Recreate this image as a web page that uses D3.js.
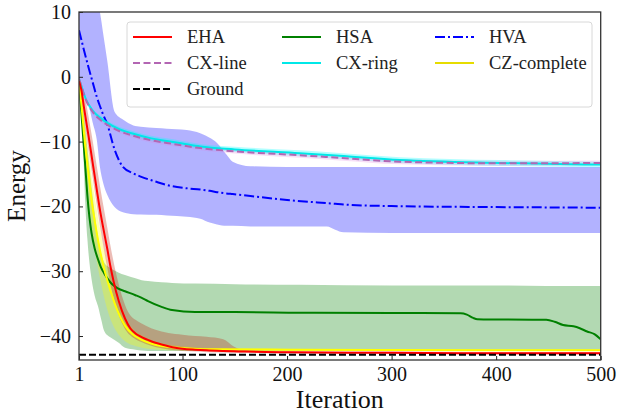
<!DOCTYPE html>
<html><head><meta charset="utf-8">
<script src="https://cdn.jsdelivr.net/npm/d3@7"></script>
<style>
html,body{margin:0;padding:0;background:#fff;}
svg{display:block;}
text{font-family:"Liberation Serif","DejaVu Serif",serif;}
</style></head>
<body>
<svg id="chart" width="618" height="418"></svg>
<script>
// ---------- data ----------
const xTicks = [1, 100, 200, 300, 400, 500];
const yTicks = [10, 0, -10, -20, -30, -40];

// HVA
const hvaIter = [1, 5, 10, 14, 18, 21, 24, 28, 35, 43, 53, 60, 75, 85, 104, 117, 126, 133, 142, 148, 165, 200, 238, 246, 254, 300, 400, 500];
const hvaMean = [7.2, 4.6, 1.5, -0.8, -3.1, -4.5, -5.8, -7.3, -11.2, -13.9, -14.9, -15.4, -16.2, -16.7, -17.2, -17.4, -17.6, -17.8, -18.0, -18.1, -18.4, -19.0, -19.5, -19.6, -19.7, -19.95, -20.1, -20.2];
const hvaHi = [28, 23, 17.5, 14.5, 12, 10, 6.8, 2.5, -5.4, -6.6, -7.5, -7.7, -7.9, -8.0, -8.2, -8.7, -9.4, -10.2, -12.0, -13.1, -13.8, -13.9, -13.9, -13.9, -13.9, -13.9, -13.9, -13.9];
const hvaLo = [-1.0, -2.5, -4.2, -7.0, -9.7, -13.9, -16.3, -18.2, -20.1, -20.9, -21.2, -21.25, -21.3, -21.4, -21.6, -21.9, -22.5, -22.8, -23.0, -23.0, -23.1, -23.1, -23.1, -23.6, -24.0, -24.1, -24.1, -24.1];

// CX-line and CX-ring
const cxIter = [1, 4, 8, 14, 21, 28, 40, 53, 70, 85, 100, 117, 150, 212, 250, 308, 404, 500];
const cxRingMean = [-0.3, -1.8, -3.6, -5.2, -6.3, -7.1, -8.1, -8.8, -9.5, -9.9, -10.3, -10.75, -11.2, -11.8, -12.2, -12.85, -13.3, -13.55];
const cxLineMean = [-0.3, -1.9, -3.7, -5.4, -6.6, -7.4, -8.4, -9.1, -9.8, -10.2, -10.6, -11.0, -11.5, -12.1, -12.5, -13.1, -13.35, -13.3];
const cxRingSpread = [0.1, 0.2, 0.3, 0.3, 0.35, 0.35, 0.35, 0.4, 0.4, 0.4, 0.4, 0.4, 0.4, 0.45, 0.45, 0.45, 0.45, 0.45];
const cxLineSpread = [0.1, 0.2, 0.3, 0.3, 0.3, 0.3, 0.3, 0.35, 0.35, 0.35, 0.35, 0.35, 0.35, 0.4, 0.4, 0.4, 0.4, 0.4];

// EHA
const ehaIter = [1, 3, 6, 10, 14, 18, 21, 25, 28, 31, 34, 39, 45, 50, 55, 60, 70, 80, 93, 100, 112, 123, 139, 149, 160, 200, 300, 400, 500];
const ehaMean = [-0.7, -1.8, -5.0, -9.0, -13.2, -17.4, -20.5, -24.0, -26.5, -29.2, -31.5, -34.6, -37.3, -38.8, -39.6, -40.1, -40.8, -41.3, -41.8, -41.95, -42.1, -42.2, -42.3, -42.35, -42.4, -42.5, -42.6, -42.65, -42.65];
const ehaHi = [-0.3, -0.8, -2.5, -6.0, -9.8, -13.8, -16.8, -20.5, -23.2, -26.0, -28.5, -32.0, -35.2, -36.8, -37.5, -38.0, -38.8, -39.3, -39.7, -39.8, -40.0, -40.1, -40.5, -41.6, -42.2, -42.3, -42.4, -42.45, -42.45];
const ehaLo = [-0.9, -2.8, -6.8, -11.2, -15.5, -19.8, -23.0, -26.8, -29.4, -32.0, -34.0, -36.8, -38.9, -39.9, -40.5, -40.9, -41.5, -41.9, -42.2, -42.3, -42.4, -42.5, -42.55, -42.6, -42.6, -42.7, -42.75, -42.8, -42.8];

// CZ-complete
const czIter = [1, 3, 7, 10, 13, 17, 21, 25, 29, 35, 40, 45, 52, 61, 70, 80, 95, 109, 130, 200, 300, 500];
const czMean = [-0.7, -3.8, -10.7, -14.8, -19.0, -23.2, -26.7, -29.6, -31.9, -34.9, -36.9, -38.4, -39.7, -40.6, -41.15, -41.55, -41.8, -41.95, -42.05, -42.1, -42.15, -42.2];
const czHi = [-0.4, -2.5, -8.0, -11.5, -15.2, -19.5, -23.3, -26.7, -29.5, -33.0, -35.4, -37.2, -38.8, -39.9, -40.6, -41.1, -41.5, -41.7, -41.85, -41.95, -42.0, -42.05];
const czLo = [-1.0, -5.5, -13.5, -18.5, -23.0, -27.5, -31.0, -34.0, -36.4, -38.8, -40.0, -40.8, -41.4, -41.8, -42.0, -42.15, -42.2, -42.25, -42.3, -42.3, -42.3, -42.3];

// HSA
const hsaIter = [1, 3, 5, 7, 9, 11, 13, 16, 19.5, 22, 25, 29, 32, 35, 38.6, 45, 55, 61, 67, 80, 90, 112, 150, 212, 300, 366, 372, 378, 382, 400, 448, 456, 464, 474, 480, 487, 494, 500];
const hsaMean = [-0.7, -5.0, -9.4, -13.8, -18.3, -21.7, -24.1, -26.5, -28.3, -29.4, -30.3, -31.3, -31.9, -32.3, -32.7, -33.1, -33.7, -34.1, -34.6, -35.5, -36.0, -36.3, -36.3, -36.4, -36.45, -36.5, -36.7, -37.2, -37.4, -37.45, -37.5, -37.8, -38.3, -38.5, -38.8, -39.3, -39.7, -40.5];
const hsaHi = [-0.4, -2.5, -5.0, -8.0, -11.0, -14.0, -17.0, -21.0, -25.0, -27.2, -28.6, -29.3, -29.6, -29.9, -30.2, -30.6, -31.1, -31.4, -31.5, -31.7, -31.8, -31.9, -32.0, -32.1, -32.2, -32.2, -32.2, -32.2, -32.2, -32.2, -32.3, -32.3, -32.3, -32.3, -32.3, -32.3, -32.3, -32.3];
const hsaLo = [-1.0, -4.5, -11.0, -19.5, -25.0, -28.7, -31.2, -33.8, -35.6, -37.3, -39.2, -40.0, -40.3, -40.6, -41.0, -41.8, -42.1, -42.25, -42.3, -42.3, -42.3, -42.3, -42.3, -42.3, -42.3, -42.3, -42.3, -42.3, -42.3, -42.3, -42.3, -42.3, -42.3, -42.3, -42.3, -42.3, -42.3, -42.3];

// Ground state
const groundIter = [1, 500];
const groundVal = [-42.9, -42.9];

// ---------- chart ----------
const svg = d3.select("#chart");
const L = 79, R = 600.7, T = 12, B = 360;
const x = d3.scaleLinear().domain([1, 500]).range([L, R]);
const y = d3.scaleLinear().domain([-43.7, 10]).range([B, T]);

svg.append("defs").append("clipPath").attr("id", "clip")
  .append("rect").attr("x", L).attr("y", T).attr("width", R - L).attr("height", B - T);
const plot = svg.append("g").attr("clip-path", "url(#clip)");

function band(iters, lo, hi, fill, op) {
  const a = d3.area().x((d, i) => x(iters[i])).y0((d, i) => y(lo[i])).y1((d, i) => y(hi[i])).curve(d3.curveMonotoneX);
  plot.append("path").attr("d", a(iters)).attr("fill", fill).attr("fill-opacity", op).attr("stroke", "none");
}
function line(iters, vals, color, dash, w) {
  const l = d3.line().x((d, i) => x(iters[i])).y((d, i) => y(vals[i])).curve(d3.curveMonotoneX);
  plot.append("path").attr("d", l(iters)).attr("fill", "none").attr("stroke", color)
    .attr("stroke-width", w || 2).attr("stroke-dasharray", dash || null);
}

// bands
band(hsaIter, hsaLo, hsaHi, "#008000", 0.3);
band(hvaIter, hvaLo, hvaHi, "#0000ff", 0.3);
band(czIter, czLo, czHi, "#ffff00", 0.3);
band(ehaIter, ehaLo, ehaHi, "#c0200c", 0.3);
band(cxIter, cxRingMean.map((v, i) => v - cxRingSpread[i]), cxRingMean.map((v, i) => v + cxRingSpread[i]), "#00ffff", 0.3);
band(cxIter, cxLineMean.map((v, i) => v - cxLineSpread[i]), cxLineMean.map((v, i) => v + cxLineSpread[i]), "#e080e0", 0.25);

// lines
line(hsaIter, hsaMean, "#008000");
line(hvaIter, hvaMean, "#0000ff", "10,3,2,3");
line(cxIter, cxRingMean, "#00e8e8");
line(cxIter, cxLineMean, "#b366b3", "7,3.5");
line(czIter, czMean, "#ffff00");
line(ehaIter, ehaMean, "#ff0000");
line(groundIter, groundVal, "#000000", "7,3");

// axes
const fmt = d => (d < 0 ? "\u2212" + Math.abs(d) : String(d));
const gx = svg.append("g").attr("transform", `translate(0,${B})`)
  .call(d3.axisBottom(x).tickValues(xTicks).tickFormat(fmt).tickSize(-4).tickPadding(7));
const gy = svg.append("g").attr("transform", `translate(${L},0)`)
  .call(d3.axisLeft(y).tickValues(yTicks).tickFormat(fmt).tickSize(-4).tickPadding(8));
[gx, gy].forEach(g => {
  g.select(".domain").remove();
  g.selectAll(".tick line").attr("stroke", "#222").attr("stroke-width", 1);
  g.selectAll(".tick text").attr("fill", "#111").style("font-size", "20px")
    .style("font-family", '"Liberation Serif","DejaVu Serif",serif');
});

svg.append("rect").attr("x", L).attr("y", T).attr("width", R - L).attr("height", B - T)
  .attr("fill", "none").attr("stroke", "#333").attr("stroke-width", 1.3);

svg.append("text").attr("x", (L + R) / 2).attr("y", 408).attr("text-anchor", "middle")
  .style("font-size", "26px").attr("fill", "#111").text("Iteration");
svg.append("text").attr("transform", `translate(25,${(T + B) / 2}) rotate(-90)`).attr("text-anchor", "middle")
  .style("font-size", "25px").attr("fill", "#111").text("Energy");

// legend
const legNames = ["EHA", "CX-line", "Ground", "HSA", "CX-ring", "HVA", "CZ-complete"];
const legColors = ["#ff0000", "#b366b3", "#000000", "#008000", "#00e8e8", "#0000ff", "#e6dc00"];
const legDash = [null, "7,3.5", "7,3", null, null, "10,3,2,3", null];
const leg = svg.append("g");
leg.append("rect").attr("x", 127).attr("y", 22).attr("width", 465).attr("height", 85).attr("rx", 3)
  .attr("fill", "#fff").attr("fill-opacity", 0.8).attr("stroke", "#d8d8d8").attr("stroke-width", 1);
const colX = [133, 282, 435];
const rowY = [37, 63, 89];
const perCol = [3, 2, 2];
let k = 0;
perCol.forEach((n, c) => {
  for (let r = 0; r < n; r++, k++) {
    leg.append("line").attr("x1", colX[c]).attr("x2", colX[c] + 39).attr("y1", rowY[r]).attr("y2", rowY[r])
      .attr("stroke", legColors[k]).attr("stroke-width", 2).attr("stroke-dasharray", legDash[k]);
    leg.append("text").attr("x", colX[c] + 54).attr("y", rowY[r] + 6.3).style("font-size", "18.5px")
      .attr("fill", "#222").text(legNames[k]);
  }
});
</script>
</body></html>
